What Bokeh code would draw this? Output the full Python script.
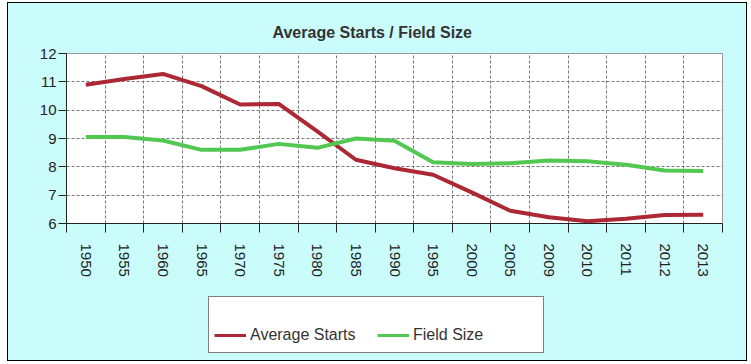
import math
from bokeh.plotting import figure
from bokeh.layouts import column
from bokeh.models import (ColumnDataSource, Range1d, FixedTicker, CustomJSTickFormatter,
                          Legend, LegendItem, Title)
from bokeh.embed import file_html
from bokeh.resources import INLINE

years = ["1950", "1955", "1960", "1965", "1970", "1975", "1980", "1985", "1990",
         "1995", "2000", "2005", "2009", "2010", "2011", "2012", "2013"]
average_starts = [10.9, 11.1, 11.28, 10.85, 10.2, 10.22, 9.25, 8.25, 7.95,
                  7.72, 7.1, 6.45, 6.22, 6.08, 6.17, 6.3, 6.31]
field_size = [9.05, 9.05, 8.93, 8.6, 8.6, 8.81, 8.67, 9.0, 8.92,
              8.16, 8.1, 8.13, 8.22, 8.2, 8.07, 7.87, 7.85]
y_ticks = [6, 7, 8, 9, 10, 11, 12]
series_names = ["Average Starts", "Field Size"]

BG = "#cbfcfc"
RED = "#ac2834"
GREEN = "#52c852"
FONT = "Liberation Sans"

xs = [i + 0.5 for i in range(len(years))]
src = ColumnDataSource(dict(x=xs, avg=average_starts, fs=field_size))

# ---------------- main chart ----------------
p = figure(width=738, height=290, output_backend="svg", toolbar_location=None,
           x_range=Range1d(0, len(years)), y_range=Range1d(min(y_ticks), max(y_ticks)),
           title="Average Starts / Field Size",
           min_border_left=58, min_border_right=24, min_border_top=50, min_border_bottom=70)

p.background_fill_color = "white"
p.border_fill_color = BG
p.outline_line_color = "#999999"

p.title.text_font = FONT
p.title.text_font_size = "16px"
p.title.text_font_style = "bold"
p.title.text_color = "#333333"
p.title.align = "left"
p.title.offset = 206

# thin empty strip between title and plot area, lifting the title a little
p.add_layout(Title(text=" ", text_font_size="6px", standoff=0), "above")

p.line("x", "avg", source=src, line_color=RED, line_width=4, line_join="round")
p.line("x", "fs", source=src, line_color=GREEN, line_width=4, line_join="round")

xt = FixedTicker(ticks=xs, minor_ticks=list(range(len(years) + 1)))
p.xaxis.ticker = xt
p.xaxis.formatter = CustomJSTickFormatter(args=dict(labels=years),
                                          code="return labels[Math.floor(tick)] || '';")
p.xaxis.major_label_orientation = -math.pi / 2
p.xaxis.major_tick_line_color = None
p.xaxis.major_tick_out = 0
p.xaxis.major_tick_in = 0
p.xaxis.minor_tick_line_color = "#222222"
p.xaxis.minor_tick_out = 9
p.xaxis.minor_tick_in = 0
p.xaxis.major_label_standoff = 11

p.yaxis.ticker = FixedTicker(ticks=y_ticks, minor_ticks=[])
p.yaxis.major_tick_out = 8
p.yaxis.major_tick_in = 0
p.yaxis.major_tick_line_color = "#222222"
p.yaxis.major_label_standoff = 2

for ax in (p.xaxis[0], p.yaxis[0]):
    ax.axis_line_color = "#222222"
    ax.major_label_text_font = FONT
    ax.major_label_text_font_size = "15px"
    ax.major_label_text_color = "#222222"

p.xgrid.grid_line_color = None
p.xgrid.minor_grid_line_color = "#777777"
p.xgrid.minor_grid_line_dash = "3 2"
p.ygrid.grid_line_color = "#777777"
p.ygrid.grid_line_dash = "3 2"

# ---------------- legend strip ----------------
q = figure(width=738, height=67, output_backend="svg", toolbar_location=None,
           x_range=Range1d(0, 1), y_range=Range1d(0, 1),
           x_axis_type=None, y_axis_type=None,
           min_border_left=58, min_border_right=24, min_border_top=0, min_border_bottom=0)
q.background_fill_color = BG
q.border_fill_color = BG
q.outline_line_color = None
q.xgrid.visible = False
q.ygrid.visible = False
# same series, outside this strip's ranges: only their legend glyphs show
l1 = q.line("x", "avg", source=src, line_color=RED, line_width=3)
l2 = q.line("x", "fs", source=src, line_color=GREEN, line_width=3)

legend = Legend(items=[LegendItem(label=series_names[0], renderers=[l1]),
                       LegendItem(label=series_names[1], renderers=[l2])],
                orientation="horizontal", location=(142, 7),
                title=" ", title_text_font_size="16px", title_standoff=3,
                padding=5, spacing=2, label_width=125, glyph_width=32,
                glyph_height=24, label_height=24,
                label_standoff=4, border_line_color="black", border_line_width=1,
                background_fill_color="white", background_fill_alpha=1,
                label_text_font=FONT, label_text_font_size="16px",
                label_text_color="#333333", margin=0)
q.add_layout(legend, "center")

lay = column(p, q, spacing=0,
             styles={"margin-left": "7px", "margin-top": "2px", "border": "1px solid black",
                     "background-color": BG})

open("out.html", "w").write(file_html(lay, INLINE))
